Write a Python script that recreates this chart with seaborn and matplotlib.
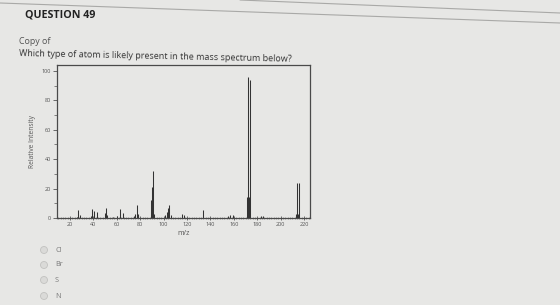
import numpy as np
import pandas as pd
import matplotlib
matplotlib.use("Agg")
import matplotlib.pyplot as plt
from matplotlib.patches import Ellipse
from matplotlib.lines import Line2D
import seaborn as sns

# ---- data ----
mz = [26, 27, 29, 38, 39, 41, 43, 50, 51, 52, 57, 60, 63, 65, 75, 76, 77, 78,
      89, 90, 91, 92, 101, 103, 104, 105, 106, 116, 117, 134, 155, 157, 159,
      171, 172, 173, 174, 183, 185, 213, 214, 215, 216]
intensity = [1, 5.5, 2, 1.5, 6, 4.5, 4, 3.5, 6.5, 2, 1, 1.5, 6, 3.5, 1.5, 2.5, 9, 3,
             12, 21, 32, 3, 2, 4, 6.5, 8.5, 2, 3, 2, 5.5, 1.5, 2, 2,
             14, 96, 14, 94, 1.5, 1.5, 3, 24, 3, 23.5]
x_ticks = [20, 40, 60, 80, 100, 120, 140, 160, 180, 200, 220]
y_ticks = [0, 20, 40, 60, 80, 100]
options = ["Cl", "Br", "S", "N"]
title_text = "QUESTION 49"
copy_text = "Copy of"
question_text = "Which type of atom is likely present in the mass spectrum below?"

df = pd.DataFrame({"mz": mz, "intensity": intensity})

sns.set_theme(style="white")
plt.rcParams["font.family"] = ["Open Sans", "DejaVu Sans"]

W, H = 560, 305
bg = "#e7e7e5"
fig = plt.figure(figsize=(W / 100, H / 100), dpi=100, facecolor=bg)

def fx(px):
    return px / W

def fy(py):
    return 1 - py / H

ax = fig.add_axes([fx(57), fy(218), fx(310) - fx(57), fy(65) - fy(218)])
ax.set_facecolor(bg)

ax.vlines(df["mz"], 0, df["intensity"], color="#333333", linewidth=0.75)

ax.set_xlim(9, 225)
ax.set_ylim(0, 104)
ax.set_xticks(x_ticks)
ax.set_yticks(y_ticks)
ax.set_xticks(np.arange(10, 225, 2), minor=True)
ax.set_yticks(np.arange(10, 100, 20), minor=True)
ax.tick_params(axis="x", which="major", labelsize=4, labelcolor="#555", length=2.5,
               width=0.6, color="#555", direction="inout", pad=1.5, bottom=True)
ax.tick_params(axis="x", which="minor", length=1.6, width=0.4, color="#666",
               direction="inout", bottom=True)
ax.tick_params(axis="y", which="major", labelsize=4, labelcolor="#555", length=3,
               width=0.6, color="#555", direction="out", pad=1.5, left=True)
ax.tick_params(axis="y", which="minor", length=2, width=0.5, color="#555",
               direction="out", left=True)
for s in ax.spines.values():
    s.set_color("#4a4a4a")
    s.set_linewidth(0.9)
ax.set_xlabel("m/z", fontsize=5, color="#555", labelpad=2)
ax.set_ylabel("Relative Intensity", fontsize=4.8, color="#555", labelpad=4)

# page text
fig.text(fx(25), fy(15), title_text, fontsize=7.7, fontweight="bold", color="#222",
         ha="left", va="center")
fig.text(fx(19), fy(41), copy_text, fontsize=6.4, color="#555", ha="left", va="center")
fig.text(fx(19), fy(56), question_text, fontsize=6.5, color="#333", ha="left",
         va="baseline", rotation=-1.2, rotation_mode="anchor")

# page separator lines
fig.add_artist(Line2D([0, 1], [fy(3), fy(23)], transform=fig.transFigure,
                      color="#a9a9a7", linewidth=0.8))
fig.add_artist(Line2D([fx(240), 1], [fy(0), fy(13)], transform=fig.transFigure,
                      color="#a9a9a7", linewidth=0.8))

# radio options
ys = [250, 265, 280, 296]
for lab, yy in zip(options, ys):
    fig.add_artist(Ellipse((fx(44), fy(yy)), 7 / W, 7 / H, transform=fig.transFigure,
                           facecolor="#dadad8", edgecolor="#c2c2c0", linewidth=0.6))
    fig.text(fx(55), fy(yy), lab, fontsize=5.2, color="#7a7a7a", ha="left", va="center")

fig.savefig("out.png", dpi=100, facecolor=bg)
